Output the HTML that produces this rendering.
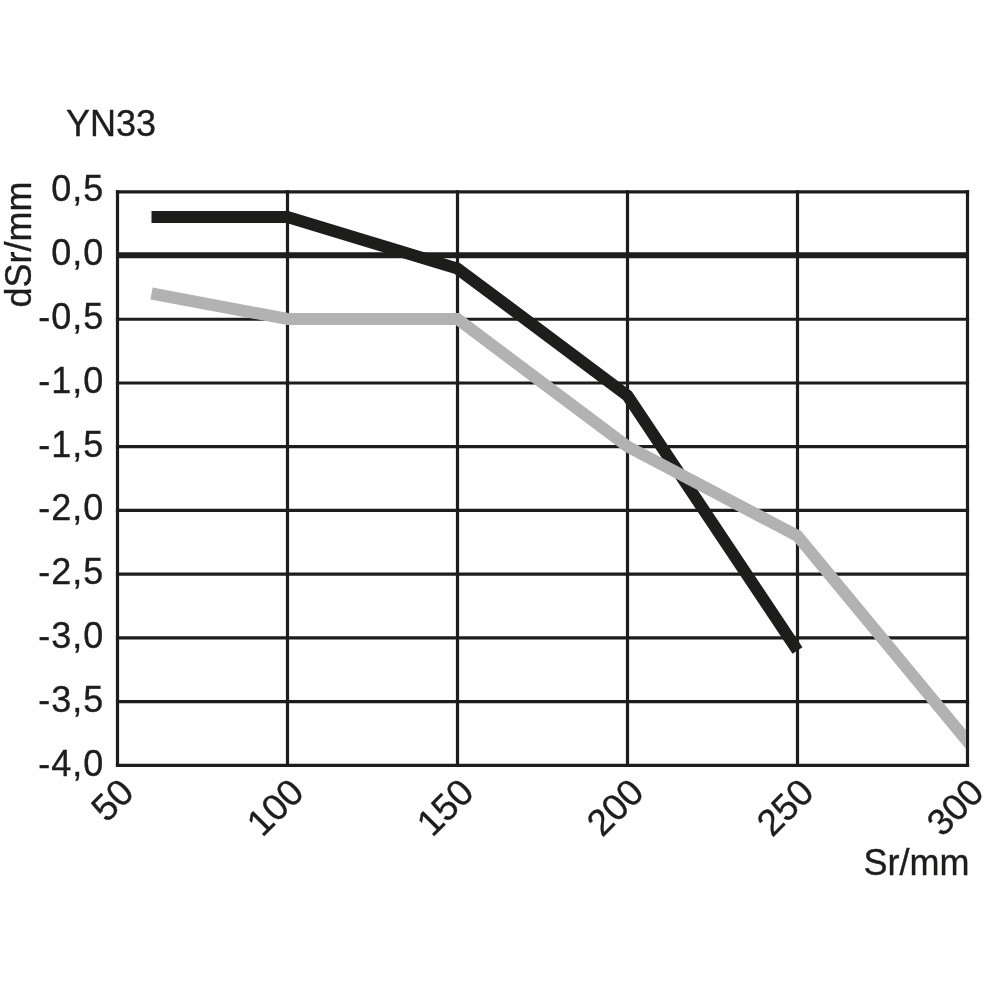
<!DOCTYPE html>
<html><head><meta charset="utf-8"><title>YN33</title>
<style>
html,body{margin:0;padding:0;background:#fff;}
body{width:1000px;height:1000px;overflow:hidden;}
svg{display:block;}
text{font-family:"Liberation Sans",Arial,Helvetica,sans-serif;font-size:36px;fill:#1d1d1b;stroke:#1d1d1b;stroke-width:.35px;}
.n{letter-spacing:1px;}
.x{font-size:37px;}
</style></head><body>
<svg width="1000" height="1000" viewBox="0 0 1000 1000">
<rect width="1000" height="1000" fill="#fff"/>
<!-- grid -->
<g stroke="#1d1d1b" stroke-width="3.2" fill="none" stroke-linecap="square">
<line x1="117.5" y1="191.80" x2="117.5" y2="765.37"/>
<line x1="287.5" y1="191.80" x2="287.5" y2="765.37"/>
<line x1="457.5" y1="191.80" x2="457.5" y2="765.37"/>
<line x1="627.5" y1="191.80" x2="627.5" y2="765.37"/>
<line x1="797.5" y1="191.80" x2="797.5" y2="765.37"/>
<line x1="967.5" y1="191.80" x2="967.5" y2="765.37"/>
<line x1="117.5" y1="191.80" x2="967.5" y2="191.80"/>
<line x1="117.5" y1="319.26" x2="967.5" y2="319.26"/>
<line x1="117.5" y1="382.99" x2="967.5" y2="382.99"/>
<line x1="117.5" y1="446.72" x2="967.5" y2="446.72"/>
<line x1="117.5" y1="510.45" x2="967.5" y2="510.45"/>
<line x1="117.5" y1="574.18" x2="967.5" y2="574.18"/>
<line x1="117.5" y1="637.91" x2="967.5" y2="637.91"/>
<line x1="117.5" y1="701.64" x2="967.5" y2="701.64"/>
<line x1="117.5" y1="765.37" x2="967.5" y2="765.37"/>
</g>
<line x1="117.5" y1="255.3" x2="967.5" y2="255.3" stroke="#1d1d1b" stroke-width="6"/>
<!-- curves -->
<polyline points="151.5,217 287.5,217 457.5,268.6 627.5,395.7 797.5,650.5" fill="none" stroke="#1d1d1b" stroke-width="12" stroke-linejoin="miter"/>
<clipPath id="c"><rect x="0" y="0" width="966" height="1000"/></clipPath>
<polyline clip-path="url(#c)" points="151.5,293.5 287.5,319 457.5,319 627.5,446.5 797.5,536 987.5,765.68" fill="none" stroke="#b2b2b2" stroke-width="12" stroke-linejoin="miter"/>
<!-- labels -->
<text x="66" y="136">YN33</text>
<g text-anchor="end" class="n">
<text x="104.4" y="201.20">0,5</text>
<text x="104.4" y="265.03">0,0</text>
<text x="104.4" y="328.86">-0,5</text>
<text x="104.4" y="392.69">-1,0</text>
<text x="104.4" y="456.52">-1,5</text>
<text x="104.4" y="520.35">-2,0</text>
<text x="104.4" y="584.18">-2,5</text>
<text x="104.4" y="648.01">-3,0</text>
<text x="104.4" y="711.84">-3,5</text>
<text x="104.4" y="775.67">-4,0</text>
</g>
<text transform="translate(30.6,307.5) rotate(-90)">dSr/mm</text>
<g text-anchor="end">
<text class="x" transform="translate(135.8,794.4) rotate(-45)">50</text>
<text class="x" transform="translate(305.8,794.4) rotate(-45)">100</text>
<text class="x" transform="translate(475.8,794.4) rotate(-45)">150</text>
<text class="x" transform="translate(645.8,794.4) rotate(-45)">200</text>
<text class="x" transform="translate(815.8,794.4) rotate(-45)">250</text>
<text class="x" transform="translate(985.8,794.4) rotate(-45)">300</text>
<text x="969.5" y="875.4">Sr/mm</text>
</g>
</svg>
</body></html>
